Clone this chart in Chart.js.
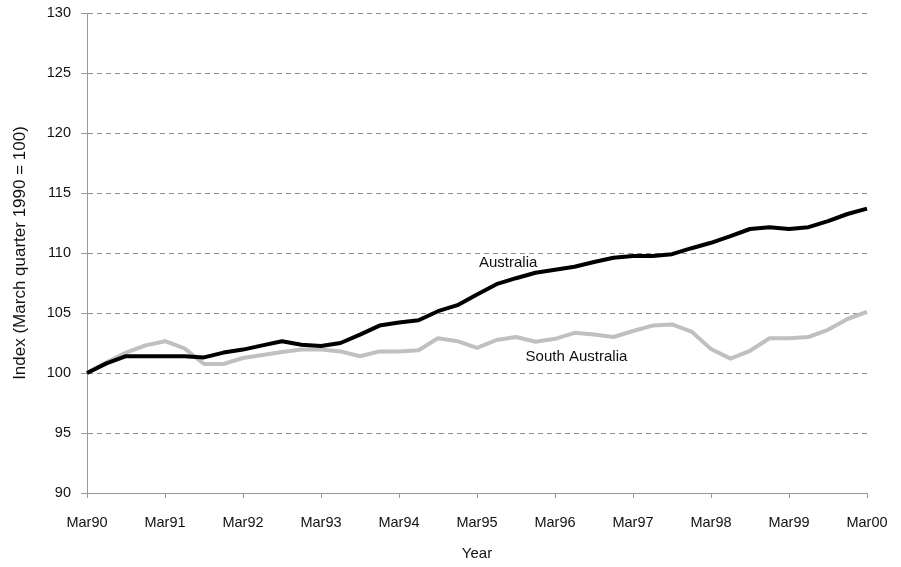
<!DOCTYPE html>
<html>
<head>
<meta charset="utf-8">
<script src="https://cdn.jsdelivr.net/npm/chart.js@4"></script>
<style>
  html, body { margin: 0; padding: 0; background: #fff; }
  #wrap { width: 901px; height: 567px; }
</style>
</head>
<body>
<div id="wrap"><canvas id="chart" width="901" height="567"></canvas></div>
<script>
const quarters = [
    'Mar90','Jun90','Sep90','Dec90','Mar91','Jun91','Sep91','Dec91',
    'Mar92','Jun92','Sep92','Dec92','Mar93','Jun93','Sep93','Dec93',
    'Mar94','Jun94','Sep94','Dec94','Mar95','Jun95','Sep95','Dec95',
    'Mar96','Jun96','Sep96','Dec96','Mar97','Jun97','Sep97','Dec97',
    'Mar98','Jun98','Sep98','Dec98','Mar99','Jun99','Sep99','Dec99',
    'Mar00'
];

const australia = [
    100.0, 100.8, 101.4, 101.4, 101.4, 101.4, 101.3, 101.7,
    101.95, 102.3, 102.65, 102.35, 102.25, 102.5, 103.2, 103.95,
    104.2, 104.4, 105.15, 105.65, 106.55, 107.4, 107.9, 108.35,
    108.6, 108.85, 109.25, 109.6, 109.75, 109.75, 109.9, 110.4,
    110.85, 111.4, 112.0, 112.15, 112.0, 112.15, 112.65, 113.25,
    113.7
];

const southAustralia = [
    100.0, 100.9, 101.7, 102.3, 102.65, 102.05, 100.75, 100.75,
    101.25, 101.5, 101.75, 101.95, 101.95, 101.8, 101.4, 101.8,
    101.8, 101.9, 102.9, 102.65, 102.1, 102.75, 103.0, 102.6,
    102.85, 103.35, 103.2, 103.0, 103.5, 103.95, 104.05, 103.45,
    102.0, 101.2, 101.85, 102.9, 102.9, 103.0, 103.6, 104.5,
    105.1
];

// series name labels placed in data space (quarter index, index value)
const seriesLabels = [
    { text: 'Australia', at: 21.6, value: 109.2 },
    { text: 'South Australia', at: 25.1, value: 101.35 }
];

const yTicks = [90, 95, 100, 105, 110, 115, 120, 125, 130];

const textColor = '#111111';
const fontFamily = '"Liberation Sans", Arial, sans-serif';

const labelPlugin = {
    id: 'seriesLabels',
    afterDatasetsDraw(chart) {
        const ctx = chart.ctx;
        const xs = chart.scales.x;
        const ys = chart.scales.y;
        ctx.save();
        ctx.font = '15px ' + fontFamily;
        ctx.fillStyle = textColor;
        ctx.textAlign = 'center';
        ctx.textBaseline = 'middle';
        seriesLabels.forEach(l => {
            ctx.fillText(l.text, xs.getPixelForValue(l.at), ys.getPixelForValue(l.value));
        });
        ctx.restore();
    }
};

new Chart(document.getElementById('chart'), {
    type: 'line',
    data: {
        labels: quarters,
        datasets: [
            {
                label: 'Australia',
                data: australia,
                borderColor: '#000000',
                borderWidth: 4,
                pointRadius: 0,
                tension: 0,
                borderJoinStyle: 'round',
                fill: false
            },
            {
                label: 'South Australia',
                data: southAustralia,
                borderColor: '#c0c0c0',
                borderWidth: 4,
                pointRadius: 0,
                tension: 0,
                borderJoinStyle: 'round',
                fill: false
            }
        ]
    },
    options: {
        responsive: false,
        animation: false,
        events: [],
        layout: { padding: { left: 0, right: 34, top: 13, bottom: 0 } },
        plugins: {
            legend: { display: false },
            tooltip: { enabled: false }
        },
        scales: {
            x: {
                type: 'category',
                offset: false,
                afterFit: s => { s.height = 74; s.paddingLeft = 0; s.paddingRight = 0; },
                grid: {
                    drawOnChartArea: false,
                    drawTicks: true,
                    tickLength: 5,
                    tickWidth: 1,
                    tickColor: ctx => ctx.index % 4 === 0 ? '#999999' : 'rgba(0,0,0,0)',
                    color: 'rgba(0,0,0,0)'
                },
                border: { display: true, color: '#999999', width: 1 },
                ticks: {
                    autoSkip: false,
                    maxRotation: 0,
                    minRotation: 0,
                    padding: 16,
                    color: textColor,
                    font: { family: fontFamily, size: 14.5 },
                    callback: function(v, i) { return i % 4 === 0 ? quarters[i] : ''; }
                },
                title: {
                    display: true,
                    text: 'Year',
                    color: textColor,
                    font: { family: fontFamily, size: 15 },
                    padding: { top: 0, bottom: 4 }
                }
            },
            y: {
                min: 90,
                max: 130,
                afterFit: s => { s.width = 87; s.paddingTop = 0; s.paddingBottom = 0; },
                afterBuildTicks: s => { s.ticks = yTicks.map(v => ({ value: v })); },
                grid: {
                    color: ctx => ctx.tick && ctx.tick.value === 90 ? 'rgba(0,0,0,0)' : '#8c8c8c',
                    lineWidth: 1,
                    drawTicks: true,
                    tickLength: 6,
                    tickColor: '#999999',
                    tickBorderDash: []
                },
                border: { display: true, color: '#999999', width: 1, dash: [5, 4] },
                ticks: {
                    padding: 10,
                    color: textColor,
                    font: { family: fontFamily, size: 14.5 }
                },
                title: {
                    display: true,
                    text: 'Index (March quarter 1990 = 100)',
                    color: textColor,
                    font: { family: fontFamily, size: 17 },
                    padding: { top: 10, bottom: 0 }
                }
            }
        }
    },
    plugins: [labelPlugin]
});
</script>
</body>
</html>
